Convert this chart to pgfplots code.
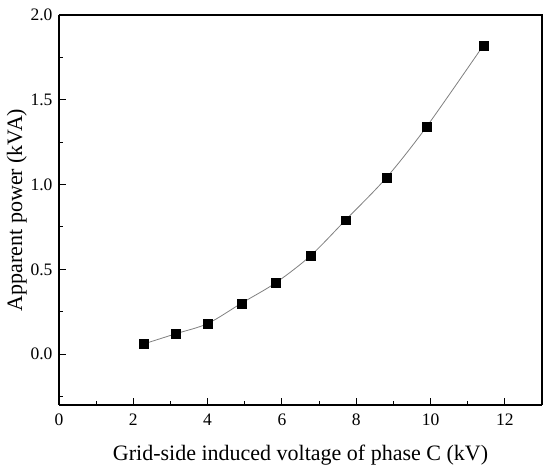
\documentclass[border=0pt]{standalone}
\usepackage{fontspec}
\setmainfont{Liberation Serif}
\usepackage{pgfplots}
\pgfplotsset{compat=1.18}
\begin{document}
\begin{tikzpicture}
\begin{axis}[
  at={(0,0)}, anchor=south west,
  scale only axis, width=483pt, height=390pt,
  xmin=0, xmax=13, ymin=-0.3, ymax=2.0,
  axis lines*=left,
  axis line style={line width=1.2pt},
  every outer x axis line/.append style={-},
  every outer y axis line/.append style={-},
  xtick={0,2,...,12}, minor xtick={1,3,...,11},
  ytick={0,0.5,1,1.5,2}, minor ytick={-0.25,0.25,0.75,1.25,1.75},
  yticklabel style={xshift=-3pt, /pgf/number format/.cd, fixed, fixed zerofill, precision=1},
  tick align=inside,
  major tick length=7pt, minor tick length=4pt,
  tick style={line width=1pt, black},
  /pgf/number format/assume math mode=true,
  ticklabel style={font=\rmfamily\fontsize{17.5}{20}\selectfont},
  xticklabel style={yshift=-5pt},
  xlabel={Grid-side induced voltage of phase C (kV)},
  ylabel={Apparent power (kVA)},
  label style={font=\rmfamily\fontsize{22}{26}\selectfont},
  xlabel style={yshift=-13pt},
  ylabel style={yshift=-3pt},
  clip=false,
]
\draw[line width=1.2pt] (rel axis cs:0,1) -- (rel axis cs:1,1) -- (rel axis cs:1,0);
\addplot[smooth, color=gray, line width=0.8pt, mark=square*, mark size=4.4pt,
  mark options={solid, fill=black, draw=black, line width=0.3pt}]
  coordinates {
  (2.28,0.06) (3.14,0.12) (4.0,0.18) (4.91,0.30) (5.83,0.42)
  (6.77,0.58) (7.71,0.79) (8.81,1.04) (9.89,1.34) (11.42,1.82)
  };
\end{axis}
\pgfresetboundingbox
\path[use as bounding box] (-59pt,-68pt) rectangle (491pt,405pt);
\end{tikzpicture}
\end{document}
